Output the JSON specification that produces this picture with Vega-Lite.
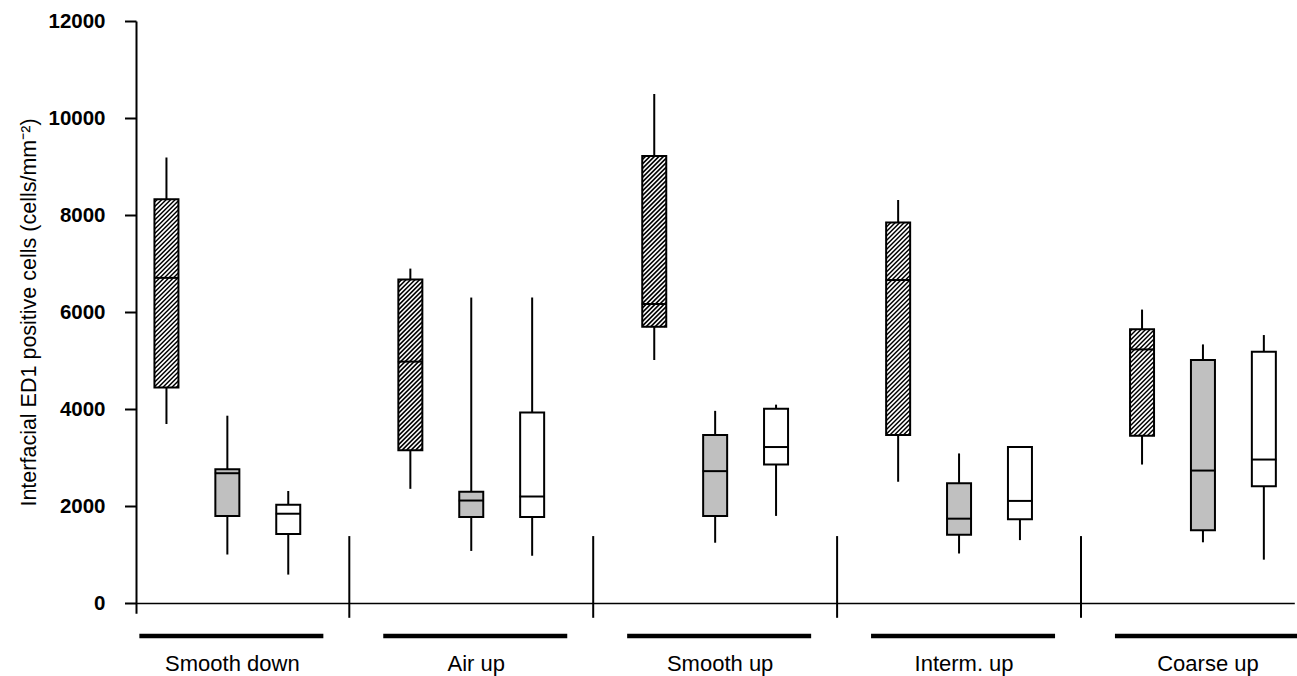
{
  "$schema": "https://vega.github.io/schema/vega-lite/v6.json",
  "width": 1158.3,
  "height": 592.2,
  "autosize": {"type": "none"},
  "padding": {"left": 136, "top": 21, "right": 2.7, "bottom": 62.8},
  "background": "white",
  "config": {"view": {"stroke": null}, "font": "Liberation Sans"},
  "datasets": {
    "boxes": [
      {"group": "Smooth down", "cond": "A", "lo": 3690, "q1": 4442, "med": 6704, "q3": 8324, "hi": 9187},
      {"group": "Smooth down", "cond": "B", "lo": 1000, "q1": 1793, "med": 2676, "q3": 2759, "hi": 3862},
      {"group": "Smooth down", "cond": "C", "lo": 586, "q1": 1421, "med": 1841, "q3": 2028, "hi": 2310},
      {"group": "Air up", "cond": "A", "lo": 2354, "q1": 3152, "med": 4977, "q3": 6668, "hi": 6895},
      {"group": "Air up", "cond": "B", "lo": 1074, "q1": 1776, "med": 2113, "q3": 2292, "hi": 6298},
      {"group": "Air up", "cond": "C", "lo": 977, "q1": 1776, "med": 2196, "q3": 3930, "hi": 6298},
      {"group": "Smooth up", "cond": "A", "lo": 5013, "q1": 5694, "med": 6163, "q3": 9216, "hi": 10494},
      {"group": "Smooth up", "cond": "B", "lo": 1243, "q1": 1796, "med": 2719, "q3": 3465, "hi": 3962},
      {"group": "Smooth up", "cond": "C", "lo": 1796, "q1": 2854, "med": 3216, "q3": 4004, "hi": 4090},
      {"group": "Interm. up", "cond": "A", "lo": 2498, "q1": 3464, "med": 6659, "q3": 7845, "hi": 8308},
      {"group": "Interm. up", "cond": "B", "lo": 1021, "q1": 1408, "med": 1739, "q3": 2470, "hi": 3084},
      {"group": "Interm. up", "cond": "C", "lo": 1297, "q1": 1725, "med": 2105, "q3": 3215, "hi": 3215},
      {"group": "Coarse up", "cond": "A", "lo": 2855, "q1": 3447, "med": 5229, "q3": 5642, "hi": 6050},
      {"group": "Coarse up", "cond": "B", "lo": 1252, "q1": 1500, "med": 2731, "q3": 5009, "hi": 5332},
      {"group": "Coarse up", "cond": "C", "lo": 894, "q1": 2408, "med": 2958, "q3": 5181, "hi": 5525}
    ],
    "groups": [
      {"group": "Smooth down"},
      {"group": "Air up"},
      {"group": "Smooth up"},
      {"group": "Interm. up"},
      {"group": "Coarse up"}
    ]
  },
  "data": {"name": "boxes"},
  "encoding": {
    "x": {
      "field": "group",
      "type": "nominal",
      "scale": {"domain": ["Smooth down", "Air up", "Smooth up", "Interm. up", "Coarse up"], "paddingInner": 0.2509, "paddingOuter": 0},
      "axis": {
        "title": null,
        "orient": "bottom",
        "offset": -10.185,
        "domain": true,
        "domainColor": "black",
        "domainWidth": 1.5,
        "ticks": false,
        "tickSize": 0,
        "grid": false,
        "labelAngle": 0,
        "labelFont": "Liberation Sans",
        "labelFontSize": 22,
        "labelColor": "black",
        "labelBaseline": "alphabetic",
        "labelPadding": 67.5,
        "labelOffset": 5
      }
    }
  },
  "layer": [
    {
      "mark": {"type": "rule", "strokeWidth": 2, "color": "black"},
      "encoding": {
        "xOffset": {"field": "cond", "type": "nominal", "scale": {"domain": ["A", "B", "C"], "paddingInner": 0, "paddingOuter": 0}},
        "y": {
          "field": "lo",
          "type": "quantitative",
          "title": "Interfacial ED1 positive cells (cells/mm⁻²)",
          "scale": {"domain": [-210, 12000], "nice": false, "zero": false},
          "axis": {
            "values": [0, 2000, 4000, 6000, 8000, 10000, 12000],
            "format": "d",
            "grid": false,
            "domainColor": "black",
            "domainWidth": 2,
            "tickColor": "black",
            "tickWidth": 2,
            "tickSize": 11.5,
            "labelFont": "Liberation Sans",
            "labelFontWeight": "bold",
            "labelFontSize": 20.5,
            "labelColor": "black",
            "labelPadding": 19.5,
            "titleFont": "Liberation Sans",
            "titleFontSize": 21.5,
            "titleFontWeight": "normal",
            "titleColor": "black",
            "titlePadding": 7,
            "titleY": 291
          }
        },
        "y2": {"field": "hi"}
      }
    },
    {
      "mark": {"type": "bar", "width": 24, "stroke": "black", "strokeWidth": 2, "opacity": 1},
      "encoding": {
        "xOffset": {"field": "cond", "type": "nominal", "scale": {"domain": ["A", "B", "C"], "paddingInner": 0, "paddingOuter": 0}},
        "y": {"field": "q1", "type": "quantitative", "title": "Interfacial ED1 positive cells (cells/mm⁻²)"},
        "y2": {"field": "q3"},
        "fill": {"field": "cond", "type": "nominal", "scale": {"domain": ["A", "B", "C"], "range": ["#ffffff", "#c0c0c0", "#ffffff"]}, "legend": null}
      }
    },
    {
      "transform": [{"filter": "datum.cond === 'A'"}],
      "mark": {"type": "point", "size": 4, "filled": false, "stroke": "black", "strokeWidth": 1.5, "opacity": 1},
      "encoding": {
        "xOffset": {"field": "cond", "type": "nominal", "scale": {"domain": ["A", "B", "C"], "paddingInner": 0, "paddingOuter": 0}},
        "y": {"field": "q1", "type": "quantitative", "title": "Interfacial ED1 positive cells (cells/mm⁻²)"},
        "shape": {
          "field": "group",
          "type": "nominal",
          "legend": null,
          "scale": {
            "domain": ["Smooth down", "Air up", "Smooth up", "Interm. up", "Coarse up"],
            "range": [
              "M9.75,0L12,-2.25M5.25,0L12,-6.75M0.75,0L12,-11.25M-3.75,0L12,-15.75M-8.25,0L12,-20.25M-12,-0.75l24,-24m-24,19.5l24,-24m-24,19.5l24,-24m-24,19.5l24,-24m-24,19.5l24,-24m-24,19.5l24,-24m-24,19.5l24,-24m-24,19.5l24,-24m-24,19.5l24,-24m-24,19.5l24,-24m-24,19.5l24,-24m-24,19.5l24,-24m-24,19.5l24,-24m-24,19.5l24,-24m-24,19.5l24,-24m-24,19.5l24,-24m-24,19.5l24,-24m-24,19.5l24,-24m-24,19.5l24,-24m-24,19.5l24,-24m-24,19.5l24,-24m-24,19.5l24,-24m-24,19.5l24,-24m-24,19.5l24,-24m-24,19.5l24,-24m-24,19.5l24,-24m-24,19.5l24,-24m-24,19.5l24,-24m-24,19.5l24,-24m-24,19.5l24,-24m-24,19.5l24,-24m-24,19.5l24,-24m-24,19.5l24,-24m-24,19.5l24,-24m-24,19.5l24,-24m-24,19.5l24,-24m-24,19.5l24,-24M-12,-167.25L9.15,-188.4M-12,-171.75L4.65,-188.4M-12,-176.25L0.15,-188.4M-12,-180.75L-4.35,-188.4M-12,-185.25L-8.85,-188.4",
              "M9.75,0L12,-2.25M5.25,0L12,-6.75M0.75,0L12,-11.25M-3.75,0L12,-15.75M-8.25,0L12,-20.25M-12,-0.75l24,-24m-24,19.5l24,-24m-24,19.5l24,-24m-24,19.5l24,-24m-24,19.5l24,-24m-24,19.5l24,-24m-24,19.5l24,-24m-24,19.5l24,-24m-24,19.5l24,-24m-24,19.5l24,-24m-24,19.5l24,-24m-24,19.5l24,-24m-24,19.5l24,-24m-24,19.5l24,-24m-24,19.5l24,-24m-24,19.5l24,-24m-24,19.5l24,-24m-24,19.5l24,-24m-24,19.5l24,-24m-24,19.5l24,-24m-24,19.5l24,-24m-24,19.5l24,-24m-24,19.5l24,-24m-24,19.5l24,-24m-24,19.5l24,-24m-24,19.5l24,-24m-24,19.5l24,-24m-24,19.5l24,-24m-24,19.5l24,-24m-24,19.5l24,-24m-24,19.5l24,-24m-24,19.5l24,-24m-24,19.5l24,-24M-12,-149.25L9.45,-170.7M-12,-153.75L4.95,-170.7M-12,-158.25L0.45,-170.7M-12,-162.75L-4.05,-170.7M-12,-167.25L-8.55,-170.7",
              "M9.75,0L12,-2.25M5.25,0L12,-6.75M0.75,0L12,-11.25M-3.75,0L12,-15.75M-8.25,0L12,-20.25M-12,-0.75l24,-24m-24,19.5l24,-24m-24,19.5l24,-24m-24,19.5l24,-24m-24,19.5l24,-24m-24,19.5l24,-24m-24,19.5l24,-24m-24,19.5l24,-24m-24,19.5l24,-24m-24,19.5l24,-24m-24,19.5l24,-24m-24,19.5l24,-24m-24,19.5l24,-24m-24,19.5l24,-24m-24,19.5l24,-24m-24,19.5l24,-24m-24,19.5l24,-24m-24,19.5l24,-24m-24,19.5l24,-24m-24,19.5l24,-24m-24,19.5l24,-24m-24,19.5l24,-24m-24,19.5l24,-24m-24,19.5l24,-24m-24,19.5l24,-24m-24,19.5l24,-24m-24,19.5l24,-24m-24,19.5l24,-24m-24,19.5l24,-24m-24,19.5l24,-24m-24,19.5l24,-24m-24,19.5l24,-24m-24,19.5l24,-24M-12,-149.25L9.75,-171M-12,-153.75L5.25,-171M-12,-158.25L0.75,-171M-12,-162.75L-3.75,-171M-12,-167.25L-8.25,-171",
              "M9.75,0L12,-2.25M5.25,0L12,-6.75M0.75,0L12,-11.25M-3.75,0L12,-15.75M-8.25,0L12,-20.25M-12,-0.75l24,-24m-24,19.5l24,-24m-24,19.5l24,-24m-24,19.5l24,-24m-24,19.5l24,-24m-24,19.5l24,-24m-24,19.5l24,-24m-24,19.5l24,-24m-24,19.5l24,-24m-24,19.5l24,-24m-24,19.5l24,-24m-24,19.5l24,-24m-24,19.5l24,-24m-24,19.5l24,-24m-24,19.5l24,-24m-24,19.5l24,-24m-24,19.5l24,-24m-24,19.5l24,-24m-24,19.5l24,-24m-24,19.5l24,-24m-24,19.5l24,-24m-24,19.5l24,-24m-24,19.5l24,-24m-24,19.5l24,-24m-24,19.5l24,-24m-24,19.5l24,-24m-24,19.5l24,-24m-24,19.5l24,-24m-24,19.5l24,-24m-24,19.5l24,-24m-24,19.5l24,-24m-24,19.5l24,-24m-24,19.5l24,-24m-24,19.5l24,-24m-24,19.5l24,-24m-24,19.5l24,-24m-24,19.5l24,-24m-24,19.5l24,-24m-24,19.5l24,-24m-24,19.5l24,-24m-24,19.5l24,-24m-24,19.5l24,-24M-12,-189.75L10.95,-212.7M-12,-194.25L6.45,-212.7M-12,-198.75L1.95,-212.7M-12,-203.25L-2.55,-212.7M-12,-207.75L-7.05,-212.7M-12,-212.25L-11.55,-212.7",
              "M9.75,0L12,-2.25M5.25,0L12,-6.75M0.75,0L12,-11.25M-3.75,0L12,-15.75M-8.25,0L12,-20.25M-12,-0.75l24,-24m-24,19.5l24,-24m-24,19.5l24,-24m-24,19.5l24,-24m-24,19.5l24,-24m-24,19.5l24,-24m-24,19.5l24,-24m-24,19.5l24,-24m-24,19.5l24,-24m-24,19.5l24,-24m-24,19.5l24,-24m-24,19.5l24,-24m-24,19.5l24,-24m-24,19.5l24,-24m-24,19.5l24,-24m-24,19.5l24,-24m-24,19.5l24,-24m-24,19.5l24,-24m-24,19.5l24,-24M-12,-86.25L8.25,-106.5M-12,-90.75L3.75,-106.5M-12,-95.25L-0.75,-106.5M-12,-99.75L-5.25,-106.5M-12,-104.25L-9.75,-106.5"
            ]
          }
        }
      }
    },
    {
      "mark": {"type": "tick", "orient": "horizontal", "size": 25, "thickness": 2, "color": "black", "opacity": 1},
      "encoding": {
        "xOffset": {"field": "cond", "type": "nominal", "scale": {"domain": ["A", "B", "C"], "paddingInner": 0, "paddingOuter": 0}},
        "y": {"field": "med", "type": "quantitative", "title": "Interfacial ED1 positive cells (cells/mm⁻²)"}
      }
    },
    {
      "data": {"name": "groups"},
      "transform": [{"filter": "datum.group !== 'Coarse up'"}],
      "mark": {"type": "rule", "strokeWidth": 2, "color": "black", "xOffset": 30.6},
      "encoding": {
        "x": {
          "field": "group",
          "type": "nominal",
          "bandPosition": 1,
          "scale": {"domain": ["Smooth down", "Air up", "Smooth up", "Interm. up", "Coarse up"], "paddingInner": 0.2509, "paddingOuter": 0}
        },
        "y": {"datum": 1380},
        "y2": {"datum": -305}
      }
    },
    {
      "data": {"name": "groups"},
      "mark": {"type": "tick", "orient": "horizontal", "size": 184, "thickness": 4.5, "color": "black", "opacity": 1, "xOffset": 4},
      "encoding": {
        "y": {"datum": -680}
      }
    }
  ]
}
